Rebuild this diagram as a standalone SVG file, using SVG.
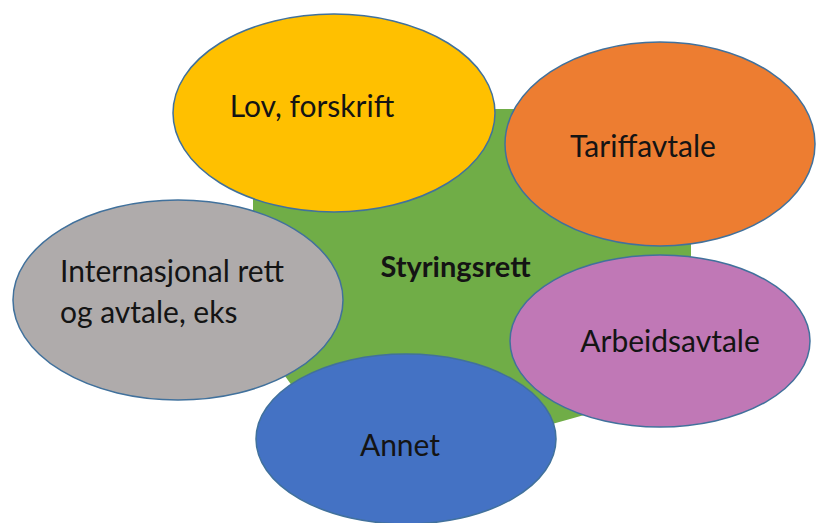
<svg xmlns="http://www.w3.org/2000/svg" width="817" height="523" viewBox="0 0 817 523">
  <style>
    .node { stroke: #41719C; stroke-width: 1.5; }
    .lbl { font-family: Lato, "Liberation Sans", sans-serif; font-size: 30px; fill: #141414; text-anchor: middle; }
    .start { text-anchor: start; }
    .bold { font-weight: bold; font-size: 29px; }
  </style>
  <rect width="817" height="523" fill="#ffffff"/>
  <g id="styringsrett">
    <polygon points="400,109 600,109 691,200 691,300 620,405 520,433 300,397 270,355 253,300 253,190" fill="#70AD47"/>
  </g>
  <g id="lov">
    <ellipse class="node" cx="334" cy="113" rx="161" ry="99" fill="#FFC000"/>
    <text class="lbl" x="312" y="117">Lov, forskrift</text>
  </g>
  <g id="tariff">
    <ellipse class="node" cx="660" cy="144" rx="155" ry="102" fill="#ED7D31"/>
    <text class="lbl" x="643" y="157">Tariffavtale</text>
  </g>
  <g id="internasjonal">
    <ellipse class="node" cx="178" cy="300" rx="165" ry="100" fill="#AFABAB"/>
    <text class="lbl start" x="60" y="282">Internasjonal rett</text>
    <text class="lbl start" x="60" y="323">og avtale, eks</text>
  </g>
  <g id="arbeidsavtale">
    <ellipse class="node" cx="660" cy="341" rx="150" ry="86" fill="#C078B6"/>
    <text class="lbl" x="670" y="352">Arbeidsavtale</text>
  </g>
  <g id="annet">
    <ellipse class="node" cx="406" cy="439" rx="150" ry="85" fill="#4472C4"/>
    <text class="lbl" x="400" y="456">Annet</text>
  </g>
  <g id="center-label">
    <text class="lbl bold" x="455.5" y="277">Styringsrett</text>
  </g>
  <g id="connectors"/>
</svg>
